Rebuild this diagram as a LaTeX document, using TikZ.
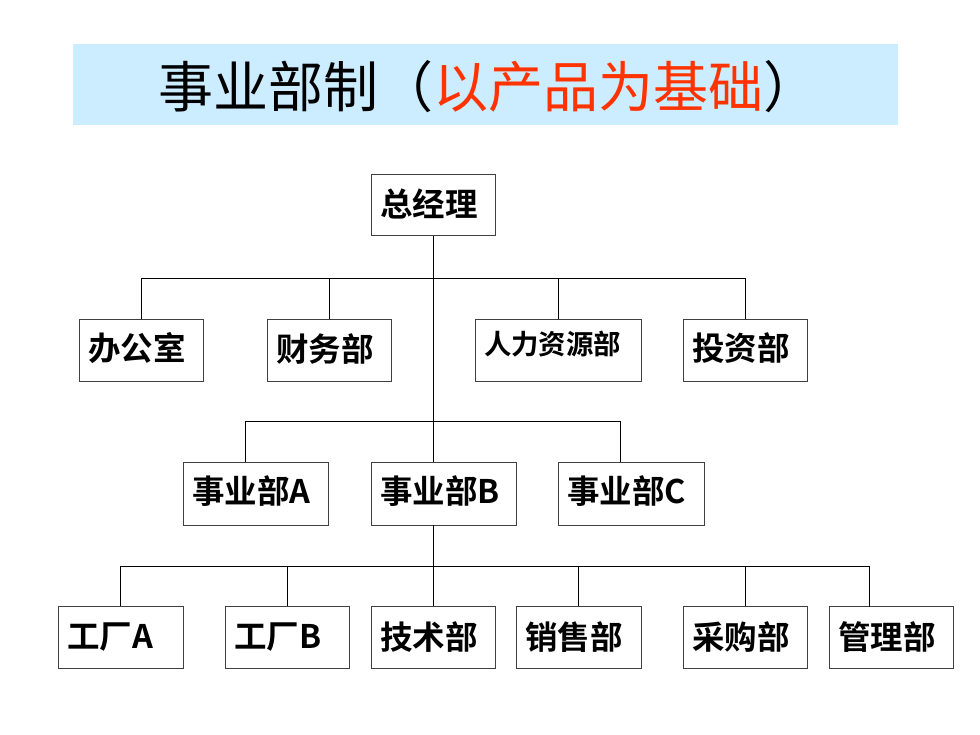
\documentclass[tikz,border=0pt]{standalone}
\usepackage{fontspec}
\setmainfont{Noto Sans CJK SC}[BoldFont={Noto Sans CJK SC Bold}]
\usetikzlibrary{calc}
\definecolor{band}{HTML}{CCECFF}
\definecolor{titlered}{HTML}{FF3300}
\definecolor{border}{HTML}{404040}
\tikzset{
  box/.style={draw=border, line width=1pt, fill=white, inner ysep=0pt, inner xsep=9pt,
    align=left, text width=#1, minimum height=62,
    font=\bfseries\fontsize{32.5}{34}\selectfont},
  box/.default=106pt,
  link/.style={draw=black, line width=0.9pt},
}
\begin{document}
\begin{tikzpicture}[x=1pt,y=-1pt]
\useasboundingbox (0,0) rectangle (980,735);
\fill[band] (73,44) rectangle (898,125);
\node[inner sep=0pt, font=\fontsize{55}{57}\selectfont] (title) at (488,87)
  {事业部制（\textcolor{titlered}{以产品为基础}）};

% level 1
\node[box, minimum height=61] (gm) at (433,205.5) {\raisebox{2pt}[\height][\depth]{总经理}};
% level 2
\node[box, minimum height=61] (off) at (141,350.5) {\raisebox{2pt}[\height][\depth]{办公室}};
\node[box, minimum height=61] (fin) at (329,350.5) {\raisebox{2pt}[\height][\depth]{财务部}};
\node[box=148pt, minimum height=61, font=\bfseries\fontsize{27.4}{29}\selectfont] (hr) at (558,350.5) {\raisebox{6pt}[\height][\depth]{人力资源部}};
\node[box, minimum height=61] (inv) at (745,350.5) {\raisebox{2pt}[\height][\depth]{投资部}};
% level 3
\node[box=127pt, minimum height=63] (dA) at (255.5,493.5) {\raisebox{2pt}[\height][\depth]{事业部A}};
\node[box=127pt, minimum height=63] (dB) at (443.5,493.5) {\raisebox{2pt}[\height][\depth]{事业部B}};
\node[box=128pt, minimum height=63] (dC) at (631,493.5) {\raisebox{2pt}[\height][\depth]{事业部C}};
% level 4
\node[box=107pt] (fA) at (120.5,637.5) {工厂A};
\node[box] (fB) at (287,637.5) {工厂B};
\node[box] (tech) at (433,637.5) {技术部};
\node[box=107pt] (sal) at (578.5,637.5) {销售部};
\node[box] (pur) at (745,637.5) {采购部};
\node[box] (mgt) at (891,637.5) {管理部};

% junctions
\coordinate (j1) at (433,278);
\coordinate (j2) at (433,421);
\coordinate (j3) at (433,566);
\coordinate (tA) at (245,462);
\coordinate (tC) at (620,462);
\coordinate (tM) at (869,606.5);
\coordinate (bB) at (433,525);

% level 1 -> 2
\draw[link] (gm.south) -- (j2);
\draw[link] (off.north |- j1) -- (inv.north |- j1);
\foreach \n in {off,fin,hr,inv} \draw[link] (\n.north) -- (\n.north |- j1);
% level 2 -> 3
\draw[link] (tA |- j2) -- (tC |- j2);
\draw[link] (tA |- j2) -- (tA);
\draw[link] (tC |- j2) -- (tC);
\draw[link] (j2) -- (j2 |- dB.north);
% level 3 -> 4
\draw[link] (bB) -- (j3);
\draw[link] (fA.north |- j3) -- (tM |- j3);
\foreach \n in {fA,fB,tech,sal,pur} \draw[link] (\n.north) -- (\n.north |- j3);
\draw[link] (tM) -- (tM |- j3);
\end{tikzpicture}
\end{document}
